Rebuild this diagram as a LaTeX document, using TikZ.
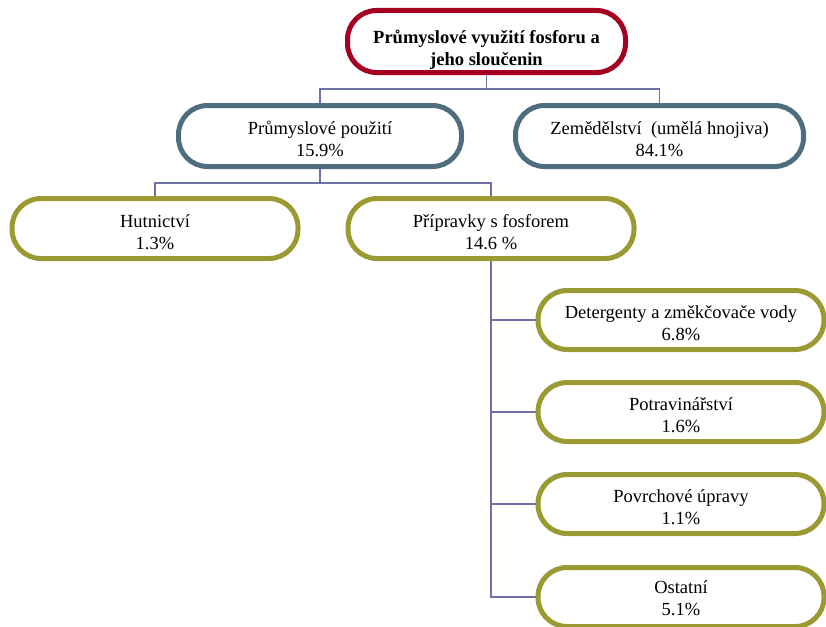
\documentclass[tikz,border=0pt]{standalone}
\usepackage{fontspec}
\setmainfont{Liberation Serif}
\definecolor{rootred}{HTML}{A50021}
\definecolor{midblue}{HTML}{4E6E80}
\definecolor{leafolive}{HTML}{9B9932}
\definecolor{linkblue}{HTML}{7070A8}

\begin{document}
\begin{tikzpicture}[x=1pt,y=-1pt,
        box/.style={draw,line width=5pt,fill=white,rounded corners=29pt,align=center,
                    inner sep=0pt,text height=42pt,font=\fontsize{18.5}{22}\selectfont},
        rootbox/.style={box,draw=rootred,minimum width=278pt,minimum height=62pt,text height=51pt,
                    font=\bfseries\fontsize{18.5}{22}\selectfont},
        midbox/.style={box,draw=midblue,minimum width=283pt,minimum height=61pt},
        leafbox/.style={box,draw=leafolive,minimum width=286pt,minimum height=60pt},
        link/.style={draw=linkblue,line width=1.6pt}]
            \useasboundingbox ( 0,0 ) rectangle ( 826,626 );
            \node [rootbox] (root) at ( 486.5,41.5 ) {Průmyslové využití fosforu a\\jeho sloučenin};
            \node [midbox] (prum) at ( 320,136 ) {Průmyslové použití\\15.9\%};
            \node [midbox,minimum width=288pt] (zem) at ( 659.5,136 ) {Zemědělství~~(umělá hnojiva)\\84.1\%};
            \node [leafbox] (hut) at ( 155,228.5 ) {Hutnictví\\1.3\%};
            \node [leafbox] (prip) at ( 491,228.5 ) {Přípravky s fosforem\\14.6 \%};
            \node [leafbox,minimum height=59pt] (det) at ( 681,320 ) {Detergenty a změkčovače vody\\6.8\%};
            \node [leafbox,minimum height=59pt] (pot) at ( 681,412 ) {Potravinářství\\1.6\%};
            \node [leafbox,minimum height=59pt] (pov) at ( 681,504 ) {Povrchové úpravy\\1.1\%};
            \node [leafbox,minimum height=59pt,text height=37pt] (ost) at ( 681,597 ) {Ostatní\\5.1\%};
            % connectors
            \draw [link] (root.south) -- ++( 0,14 ) -| (prum.north)
                         (root.south) -- ++( 0,14 ) -| (zem.north);
            \draw [link] (prum.south) -- ++( 0,14 ) -| (hut.north)
                         (prum.south) -- ++( 0,14 ) -| (prip.north);
            \draw [link] (prip.south) |- (det.west)
                         (prip.south) |- (pot.west)
                         (prip.south) |- (pov.west)
                         (prip.south) |- (ost.west);
        \end{tikzpicture}
\end{document}
